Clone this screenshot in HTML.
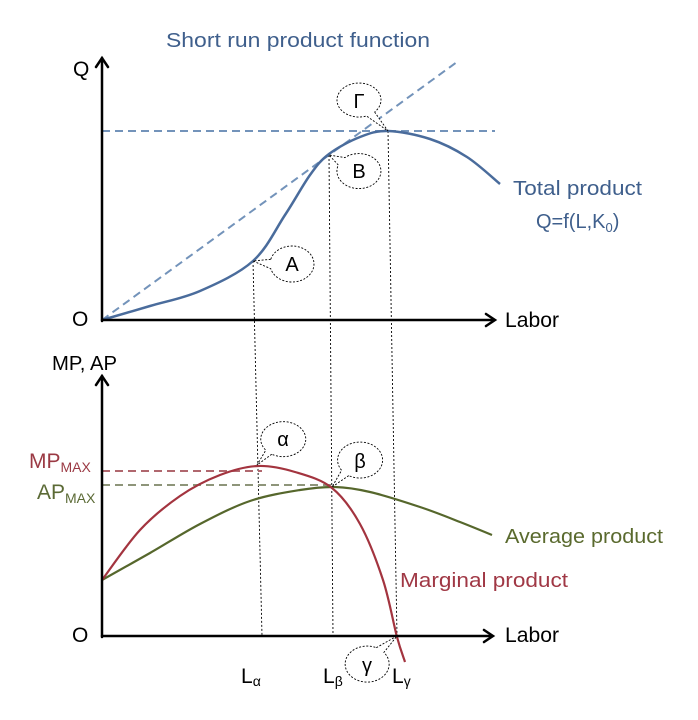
<!DOCTYPE html>
<html><head><meta charset="utf-8"><style>
html,body{margin:0;padding:0;background:#fff;}
svg{display:block;}
text{font-family:"Liberation Sans",sans-serif;}
</style></head><body>
<svg width="698" height="720" viewBox="0 0 698 720" xmlns="http://www.w3.org/2000/svg">
<rect width="698" height="720" fill="#fff"/>
<!-- title -->
<text x="166" y="47" font-size="20" fill="#3f5f8c" textLength="264" lengthAdjust="spacingAndGlyphs">Short  run product function</text>

<!-- top dashed lines -->
<line x1="102" y1="131" x2="495" y2="131" stroke="#7393ba" stroke-width="2" stroke-dasharray="8,5"/>
<line x1="102" y1="320" x2="457" y2="62" stroke="#7393ba" stroke-width="2" stroke-dasharray="8,5"/>

<!-- dotted verticals -->
<g stroke="#000" stroke-width="0.9" stroke-dasharray="2,2">
<line x1="253" y1="261" x2="262" y2="636"/>
<line x1="329" y1="155" x2="333" y2="636"/>
<line x1="388" y1="131" x2="397" y2="636"/>
</g>

<!-- total product curve -->
<path d="M102,320 C110,317.7 133.7,310.8 150,306 C166.3,301.2 182.8,298.5 200,291 C217.2,283.5 238.8,273.7 253,261 C267.2,248.3 275.5,229.3 285,215 C294.5,200.7 302.7,185.2 310,175 C317.3,164.8 320.7,160.3 329,154 C337.3,147.7 350.2,140.8 360,137 C369.8,133.2 376.3,130.7 388,131 C399.7,131.3 416.8,134.7 430,139 C443.2,143.3 455.3,149.5 467,157 C478.7,164.5 494.5,179.5 500,184" fill="none" stroke="#4a6c9c" stroke-width="2.5"/>

<!-- top axes -->
<g stroke="#000" stroke-width="2.5" fill="none" stroke-linecap="round" stroke-linejoin="miter">
<line x1="102" y1="321" x2="102" y2="58"/>
<polyline points="96,67 102,58 108,67"/>
<line x1="102" y1="320" x2="494" y2="320"/>
<polyline points="486,314 495,320 486,326"/>
</g>
<text x="73" y="76" font-size="21" fill="#000">Q</text>
<text x="72" y="326" font-size="21" fill="#000">O</text>
<text x="505" y="327" font-size="21" fill="#000" textLength="54" lengthAdjust="spacingAndGlyphs">Labor</text>

<text x="513" y="195" font-size="20" fill="#3f5f8c" textLength="129" lengthAdjust="spacingAndGlyphs">Total product</text>
<text x="536" y="228" font-size="20" fill="#3f5f8c">Q=f(L,K<tspan font-size="13" dy="4">0</tspan><tspan dy="-4">)</tspan></text>

<!-- callouts top -->
<g fill="#fff" stroke="#000" stroke-width="0.9" stroke-dasharray="2,1.6">
<path d="M270.75,259.3 L253,261 L270.75,268.7 A22 18 0 1 0 270.75 259.3"/>
<path d="M338.3,165 L329,155 L344.9,157.6 A22 17.5 0 1 1 338.3 165"/>
<path d="M374.6,112 L388,131 L366.5,116 A22 17 0 1 1 374.6 112"/>
</g>
<g font-size="20" fill="#000" text-anchor="middle">
<text x="292" y="271">A</text>
<text x="359" y="178">B</text>
<text x="359" y="108">Γ</text>
</g>

<!-- lower chart dashed -->
<line x1="102" y1="471" x2="262" y2="471" stroke="#b0676e" stroke-width="2" stroke-dasharray="8,5"/>
<line x1="102" y1="485" x2="332" y2="485" stroke="#8e957a" stroke-width="2" stroke-dasharray="8,5"/>

<!-- AP curve -->
<path d="M102,580 C110,575.5 133.7,562.3 150,553 C166.3,543.7 183.3,532.7 200,524 C216.7,515.3 233.3,506.7 250,501 C266.7,495.3 285.8,492.3 300,490 C314.2,487.7 323.3,486.7 335,487 C346.7,487.3 355.8,488.7 370,492 C384.2,495.3 405,502 420,507 C435,512 448,517.3 460,522 C472,526.7 486.7,532.8 492,535" fill="none" stroke="#56672c" stroke-width="2.2"/>
<!-- MP curve -->
<path d="M102,580 C108.3,571.7 127,544 140,530 C153,516 166.7,505.2 180,496 C193.3,486.8 207,480 220,475 C233,470 245.5,466.5 258,466 C270.5,465.5 282.7,468.3 295,472 C307.3,475.7 321.2,479.3 332,488 C342.8,496.7 351.5,508.7 360,524 C368.5,539.3 376.8,561.2 383,580 C389.2,598.8 393.3,623.3 397,637 C400.7,650.7 403.7,657.8 405,662" fill="none" stroke="#a3343f" stroke-width="2.2"/>

<!-- lower axes -->
<g stroke="#000" stroke-width="2.5" fill="none" stroke-linecap="round">
<line x1="102" y1="637" x2="102" y2="376"/>
<polyline points="96,385 102,376 108,385"/>
<line x1="102" y1="636" x2="492" y2="636"/>
<polyline points="484,630 493,636 484,642"/>
</g>
<text x="52" y="370" font-size="20" fill="#000" textLength="65" lengthAdjust="spacingAndGlyphs">MP, AP</text>
<text x="72" y="642" font-size="21" fill="#000">O</text>
<text x="505" y="642" font-size="21" fill="#000" textLength="54" lengthAdjust="spacingAndGlyphs">Labor</text>

<text x="29" y="468" font-size="21" fill="#9b3a44">MP<tspan font-size="14" dy="4">MAX</tspan></text>
<text x="37" y="499" font-size="21" fill="#5b6a35">AP<tspan font-size="14" dy="4">MAX</tspan></text>

<text x="505" y="543" font-size="20" fill="#5a6a2e" textLength="158" lengthAdjust="spacingAndGlyphs">Average product</text>
<text x="400" y="587" font-size="20" fill="#a03845" textLength="168" lengthAdjust="spacingAndGlyphs">Marginal product</text>

<!-- callouts lower -->
<g fill="#fff" stroke="#000" stroke-width="0.9" stroke-dasharray="2,1.6">
<path d="M271.75,454.2 L257,465 L265.8,450.2 A22.5 17.5 0 1 1 271.75 454.2"/>
<path d="M348.75,475.6 L332,487 L341.6,470.3 A22.5 18 0 1 1 348.75 475.6"/>
<path d="M376.3,647.7 L397,636 L383.9,652.4 A22 18 0 1 1 376.3 647.7"/>
</g>
<g font-size="20" fill="#000" text-anchor="middle">
<text x="283" y="446">α</text>
<text x="360" y="468">β</text>
<text x="367" y="672">γ</text>
</g>

<!-- L labels -->
<text x="241" y="683" font-size="21" fill="#000">L<tspan font-size="14" dy="3">α</tspan></text>
<text x="323" y="683" font-size="21" fill="#000">L<tspan font-size="14" dy="3">β</tspan></text>
<text x="392" y="683" font-size="21" fill="#000">L<tspan font-size="14" dy="3">γ</tspan></text>
</svg>
</body></html>
